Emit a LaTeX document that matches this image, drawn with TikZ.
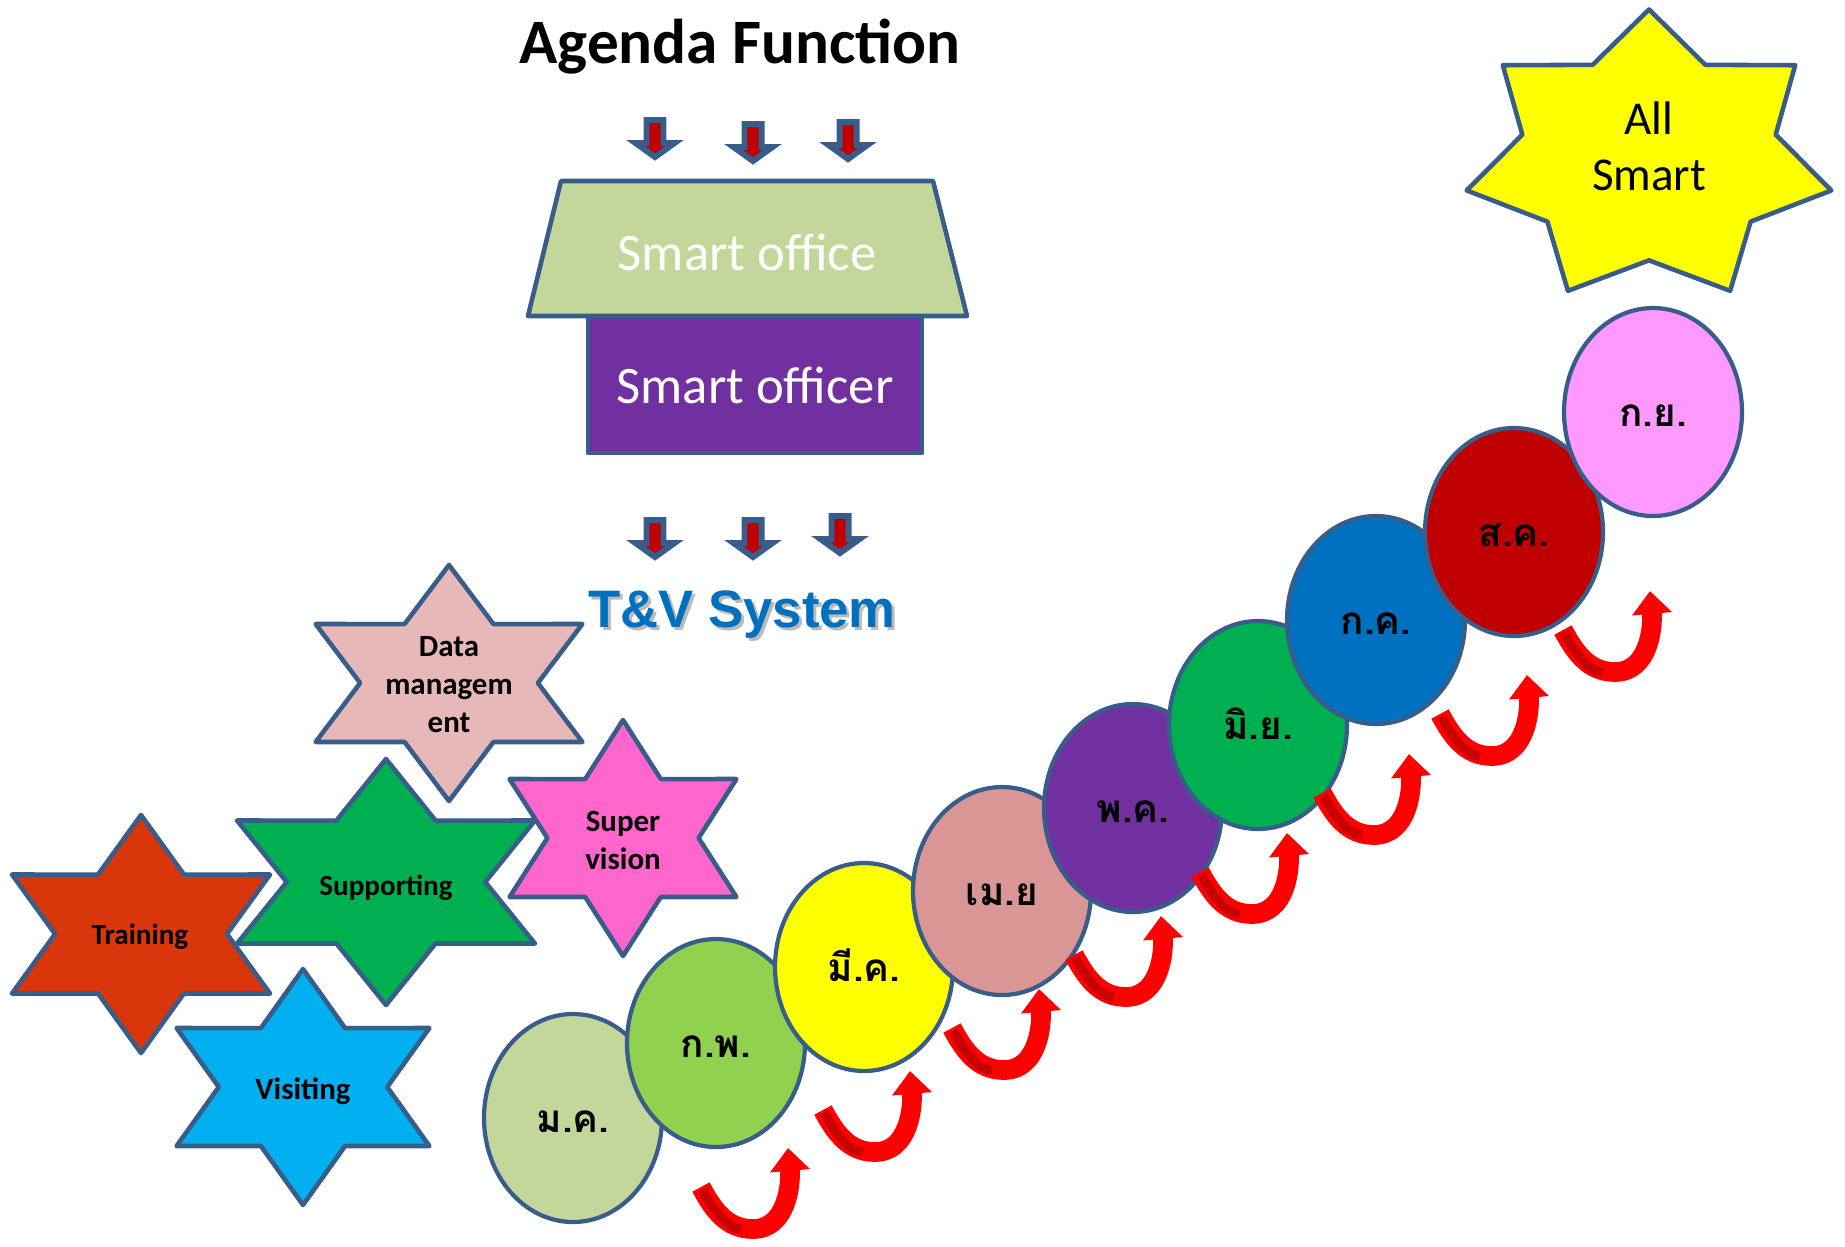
\documentclass[tikz,border=0pt]{standalone}
\usepackage{fontspec}
\setmainfont{Carlito}
\newfontfamily\thaifont[Script=Thai]{Loma}
\newfontfamily\arialfont{Liberation Sans}
\usetikzlibrary{shapes.geometric,arrows.meta}
\definecolor{edgeblue}{HTML}{385D8A}
\definecolor{sysblue}{HTML}{0070C0}
\definecolor{darkred}{HTML}{C00000}
\definecolor{turnred}{HTML}{FF0000}
\definecolor{turndark}{HTML}{C80000}
\definecolor{officegreen}{HTML}{C4D79B}
\definecolor{officepurple}{HTML}{7030A0}
\definecolor{datapink}{HTML}{E6B9B8}
\definecolor{trainorange}{HTML}{D9360B}
\definecolor{supportgreen}{HTML}{00B050}
\definecolor{superpink}{HTML}{FF66CC}
\definecolor{visitblue}{HTML}{00B0F0}
\definecolor{smartyellow}{HTML}{FFFF00}
\definecolor{febgreen}{HTML}{92D050}
\definecolor{aprrose}{HTML}{D99694}
\definecolor{sepviolet}{HTML}{FF99FF}
\tikzset{
  starline/.style={draw=edgeblue, line width=1.3pt, line join=round},
  feedline/.style={draw=edgeblue, fill=darkred, line width=1.7pt, line join=miter},
  turnline/.style={draw=turnred, line width=5.6pt, -{Triangle[width=11pt,length=6.5pt]}},
  turninner/.style={draw=turndark, line width=2.6pt, shorten >=0.12cm, shorten <=0.03cm},
  month/.style={ellipse, draw=edgeblue, line width=1.2pt, minimum width=1.78cm,
    minimum height=2.08cm, inner sep=0pt, text height=9pt, text depth=1pt,
    font=\thaifont\bfseries\fontsize{11}{13}\selectfont},
  starlabel/.style={font=\bfseries\fontsize{8.8}{10.8}\selectfont, align=center}
}
\newcommand{\hexstar}[1]{\draw[starline, fill=#1] (90:1) -- (60:0.577) -- (30:1) -- (0:0.577)
  -- (-30:1) -- (-60:0.577) -- (-90:1) -- (-120:0.577) -- (-150:1) -- (180:0.577)
  -- (150:1) -- (120:0.577) -- cycle;}
\newcommand{\feedarrow}{\draw[feedline] (-0.085,0) -- (0.085,0) -- (0.085,-0.23) -- (0.195,-0.23)
  -- (0,-0.37) -- (-0.195,-0.23) -- (-0.085,-0.23) -- cycle;}
\newcommand{\turnarrow}{\draw[turnline] (0,0) to[out=-62,in=180] (0.52,-0.42) to[out=0,in=-85] (0.87,0.39);
  \draw[turninner] (0,0) to[out=-62,in=180] (0.52,-0.42);}

\begin{document}
\begin{tikzpicture}
\useasboundingbox (0,0) rectangle (18.45,-12.46);

% title and the office
\node[anchor=base, font=\bfseries\fontsize{18}{21}\selectfont] (agenda) at (7.40,-0.63) {Agenda Function};

\begin{scope}[shift={(6.55,-1.20)}]
  \feedarrow
\end{scope}
\begin{scope}[shift={(7.53,-1.24)}]
  \feedarrow
\end{scope}
\begin{scope}[shift={(8.48,-1.22)}]
  \feedarrow
\end{scope}

\draw[starline, fill=officepurple] (5.88,-3.16) rectangle (9.22,-4.53);
\draw[starline, fill=officegreen] (5.61,-1.81) -- (9.33,-1.81) -- (9.67,-3.16) -- (5.28,-3.16) -- cycle;
\node[anchor=base, text=white, font=\fontsize{15}{18}\selectfont] (office) at (7.47,-2.70) {Smart office};
\node[anchor=base, text=white, font=\fontsize{15}{18}\selectfont] (officer) at (7.55,-4.03) {Smart officer};

\begin{scope}[shift={(6.55,-5.20)}]
  \feedarrow
\end{scope}
\begin{scope}[shift={(7.53,-5.20)}]
  \feedarrow
\end{scope}
\begin{scope}[shift={(8.40,-5.16)}]
  \feedarrow
\end{scope}

\node[anchor=base, text=black!45, opacity=0.6, font=\arialfont\bfseries\fontsize{15}{18}\selectfont] (tvshadow) at (7.45,-6.30) {T\&V System};
\node[anchor=base, text=sysblue, font=\arialfont\bfseries\fontsize{15}{18}\selectfont] (tv) at (7.42,-6.27) {T\&V System};

% the five stars
\begin{scope}[shift={(4.49,-6.83)}, xscale=1.54, yscale=1.18]
  \hexstar{datapink}
\end{scope}
\begin{scope}[shift={(1.41,-9.34)}, xscale=1.49, yscale=1.19]
  \hexstar{trainorange}
\end{scope}
\begin{scope}[shift={(3.86,-8.82)}, xscale=1.72, yscale=1.23]
  \hexstar{supportgreen}
\end{scope}
\begin{scope}[shift={(6.23,-8.38)}, xscale=1.31, yscale=1.18]
  \hexstar{superpink}
\end{scope}
\begin{scope}[shift={(3.03,-10.87)}, xscale=1.46, yscale=1.18]
  \hexstar{visitblue}
\end{scope}

\node[starlabel] (datamgmt) at (4.49,-6.85) {Data\\managem\\ent};
\node[starlabel, anchor=base, font=\bfseries\fontsize{8.3}{10}\selectfont] (training) at (1.40,-9.44) {Training};
\node[starlabel, anchor=base, font=\bfseries\fontsize{8.3}{10}\selectfont] (supporting) at (3.86,-8.95) {Supporting};
\node[starlabel] (supervision) at (6.23,-8.40) {Super\\vision};
\node[starlabel, anchor=base] (visiting) at (3.03,-10.99) {Visiting};

% the goal
\begin{scope}[shift={(16.49,-1.575)}, xscale=1.87, yscale=1.48]
  \draw[starline, fill=smartyellow] (90:1) -- (115.71:0.695) -- (141.43:1) -- (167.14:0.695)
    -- (192.86:1) -- (218.57:0.695) -- (244.29:1) -- (270:0.695) -- (295.71:1)
    -- (321.43:0.695) -- (347.14:1) -- (12.86:0.695) -- (38.57:1) -- (64.29:0.695) -- cycle;
\end{scope}
\node[align=center, font=\fontsize{13.4}{15.9}\selectfont] (allsmart) at (16.49,-1.46) {All\\Smart};

% the months
\node[month, fill=officegreen] (jan) at (5.73,-11.18) {ม.ค.};
\node[month, fill=febgreen] (feb) at (7.16,-10.43) {ก.พ.};
\node[month, fill=smartyellow] (mar) at (8.64,-9.67) {มี.ค.};
\node[month, fill=aprrose] (apr) at (10.02,-8.91) {เม.ย};
\node[month, fill=officepurple] (may) at (11.33,-8.08) {พ.ค.};
\node[month, fill=supportgreen] (jun) at (12.58,-7.25) {มิ.ย.};
\node[month, fill=sysblue] (jul) at (13.76,-6.20) {ก.ค.};
\node[month, fill=darkred] (aug) at (15.14,-5.32) {ส.ค.};
\node[month, fill=sepviolet] (sep) at (16.53,-4.12) {ก.ย.};

% the turns
\begin{scope}[shift={(7.01,-11.87)}]
  \turnarrow
\end{scope}
\begin{scope}[shift={(8.23,-11.10)}]
  \turnarrow
\end{scope}
\begin{scope}[shift={(9.52,-10.28)}]
  \turnarrow
\end{scope}
\begin{scope}[shift={(10.74,-9.55)}]
  \turnarrow
\end{scope}
\begin{scope}[shift={(12.00,-8.72)}]
  \turnarrow
\end{scope}
\begin{scope}[shift={(13.22,-7.93)}]
  \turnarrow
\end{scope}
\begin{scope}[shift={(14.40,-7.14)}]
  \turnarrow
\end{scope}
\begin{scope}[shift={(15.63,-6.30)}]
  \turnarrow
\end{scope}

\end{tikzpicture}
\end{document}
